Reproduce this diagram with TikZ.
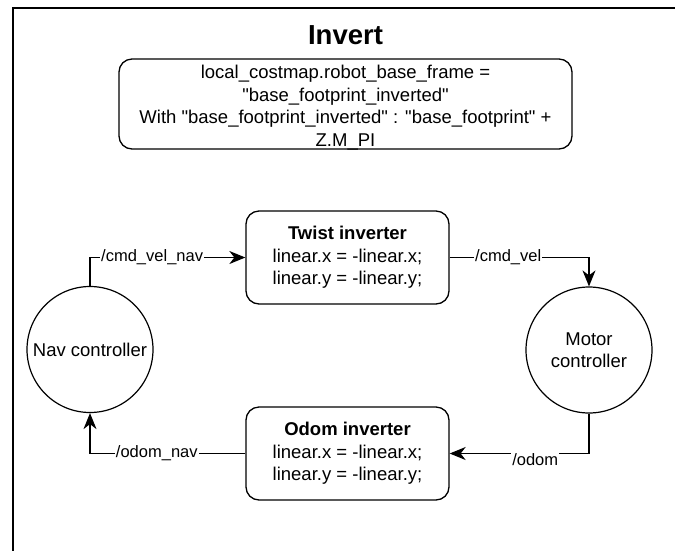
\documentclass[tikz,border=0pt]{standalone}
\usepackage{fontspec}
\setmainfont{Liberation Sans}[Ligatures=TeXOff]
\usetikzlibrary{arrows.meta}
\begin{document}
\begin{tikzpicture}[x=1pt,y=-1pt,
  every node/.style={font=\fontsize{18.5}{22.5}\selectfont, inner sep=0pt},
  box/.style={draw, line width=1.3pt, rounded corners=13pt, minimum width=203pt, minimum height=93pt, align=center},
  ctrl/.style={draw, circle, line width=1.2pt, minimum size=126pt, align=center},
  tip/.tip={Stealth[length=16pt,width=13pt,inset=5pt]},
  conn/.style={line width=1.4pt, -tip},
  lbl/.style={fill=white, font=\fontsize{16.5}{20}\selectfont, inner sep=1pt}]
\useasboundingbox (0,0) rectangle (675,550);
\draw[line width=1.6pt] (13,551) -- (13,8) -- (676,8);
\node[font=\bfseries\fontsize{27.5}{30}\selectfont] (title) at (345.5,35) {Invert};
\node[box, minimum width=453pt, minimum height=90pt] (note) at (345.5,104) {};
\node[align=center, font=\fontsize{18.5}{22.7}\selectfont] (notetext) at (345.5,107.5) {local\_costmap.robot\_base\_frame =\\ "base\_footprint\_inverted"\\ With "base\_footprint\_inverted" : "base\_footprint" +\\ Z.M\_PI};
\node[box] (twist) at (347.5,257.5) {\textbf{Twist inverter}\\ linear.x = -linear.x;\\ linear.y = -linear.y;};
\node[box] (odom) at (347.5,453.5) {\textbf{Odom inverter}\\ linear.x = -linear.x;\\ linear.y = -linear.y;};
\node[ctrl] (nav) at (90,349.5) {Nav controller};
\node[ctrl] (motor) at (589,350) {Motor\\ controller};
\draw[conn] (nav.north) |- node[lbl, pos=0.70] {/cmd\_vel\_nav} (twist.west);
\draw[conn] (twist.east) -| node[lbl, pos=0.21] {/cmd\_vel} (motor.north);
\draw[conn] (motor.south) |- node[lbl, pos=0.693, yshift=-6pt] {/odom} (odom.east);
\draw[conn] (odom.west) -| node[lbl, pos=0.285] {/odom\_nav} (nav.south);
\end{tikzpicture}
\end{document}
